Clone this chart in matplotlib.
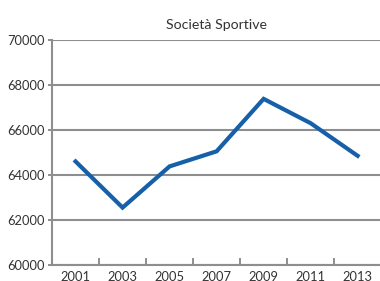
import numpy as np
import matplotlib
matplotlib.use('Agg')
import matplotlib.pyplot as plt

years = ['2001', '2003', '2005', '2007', '2009', '2011', '2013']
societa = [64600, 62550, 64380, 65050, 67380, 66300, 64850]
yticks = [60000, 62000, 64000, 66000, 68000, 70000]

grey = '#8c8e90'
blue = '#1560a8'
txt = '#333333'

plt.rcParams['font.family'] = ['Lato', 'DejaVu Sans']

fig = plt.figure(figsize=(3.8, 2.81), dpi=100)
ax = fig.add_axes([0.137, 0.057, 0.866, 0.801])

x = np.arange(len(years))
ax.plot(x, societa, color=blue, linewidth=3.0, solid_joinstyle='miter', zorder=3)

ax.set_xlim(-0.5, len(years) - 0.5)
ax.set_ylim(60000, 70000)
ax.set_yticks(yticks)
ax.set_yticklabels([str(v) for v in yticks], fontsize=9.3, color=txt)
ax.set_xticks(x)
ax.set_xticklabels(years, fontsize=9.3, color=txt)
ax.set_xticks(np.arange(0.5, len(years) - 1, 1), minor=True)

ax.tick_params(axis='x', which='major', length=0, pad=4)
ax.tick_params(axis='x', which='minor', direction='in', length=5, width=1.4, color=grey)
ax.tick_params(axis='y', length=3, width=1.4, color=grey, pad=2)

ax.grid(axis='y', color=grey, linewidth=1.5)
ax.set_axisbelow(True)
for s in ['top', 'right']:
    ax.spines[s].set_visible(False)
for s in ['left', 'bottom']:
    ax.spines[s].set_color(grey)
    ax.spines[s].set_linewidth(1.5)

ax.set_title('Società Sportive', fontsize=10.2, color=txt, pad=8)

fig.savefig('out.png', dpi=100)
